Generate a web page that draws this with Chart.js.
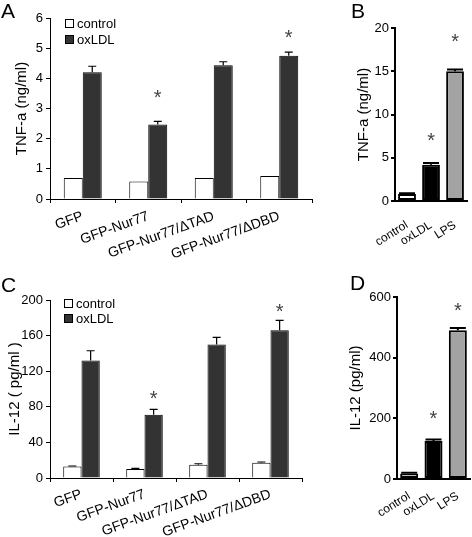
<!DOCTYPE html>
<html lang="en">
<head>
  <meta charset="UTF-8">
  <title>TNF-a / IL-12</title>
  <style>
    body { margin: 0; padding: 0; background: #fff; font-family: "Liberation Sans", Arial, sans-serif; }
    .wrap { position: relative; width: 472px; height: 537px; overflow: hidden; }
    .panel { position: absolute; }
    .tag { position: absolute; font-size: 21px; color: #000; line-height: 1; }
  </style>
</head>
<body>
  <div class="wrap">
    <canvas class="panel" id="chartA" width="330" height="268" style="left:0;top:0"></canvas>
    <canvas class="panel" id="chartB" width="132" height="268" style="left:340px;top:0"></canvas>
    <canvas class="panel" id="chartC" width="330" height="269" style="left:0;top:268px"></canvas>
    <canvas class="panel" id="chartD" width="132" height="269" style="left:340px;top:268px"></canvas>
    <div class="tag" style="left:1px;top:0px">A</div>
    <div class="tag" style="left:351px;top:0px">B</div>
    <div class="tag" style="left:1px;top:274px">C</div>
    <div class="tag" style="left:350px;top:272px">D</div>
  </div>

  <script src="https://cdn.jsdelivr.net/npm/chart.js"></script>
  <script>
    // constructs (panels A and C)
    const constructs = ['GFP', 'GFP-Nur77', 'GFP-Nur77/\u0394TAD', 'GFP-Nur77/\u0394DBD'];
    // treatments (panels B and D)
    const treatments = ['control', 'oxLDL', 'LPS'];

    // A: TNF-a (ng/ml)
    const tnfControl = [0.7, 0.58, 0.7, 0.76];
    const tnfControlErr = [0, 0, 0, 0];
    const tnfOx = [4.2, 2.47, 4.43, 4.75];
    const tnfOxErr = [0.2, 0.1, 0.12, 0.12];
    const tnfStars = [null, 3.45, null, 5.45];

    // B: TNF-a (ng/ml)
    const tnfB = [0.8, 4.2, 15.0];
    const tnfBErr = [0.1, 0.2, 0.2];
    const tnfBStars = [null, 7.4, 18.8];

    // C: IL-12 (pg/ml)
    const ilControl = [13, 10, 15, 17];
    const ilControlErr = [0.5, 0.8, 1, 1];
    const ilOx = [132, 71, 150, 166];
    const ilOxErr = [11, 6, 8, 11];
    const ilStars = [null, 93, null, 191];

    // D: IL-12 (pg/ml)
    const ilD = [18, 125, 490];
    const ilDErr = [3, 5, 8];
    const ilDStars = [null, 208, 564];

    Chart.defaults.font.family = '"Liberation Sans", Arial, sans-serif';
    Chart.defaults.color = '#000';

    // error bars + asterisks, drawn from dataset.err / dataset.stars
    const errorBars = {
      id: 'errorBars',
      afterDatasetsDraw(chart, args, opts) {
        const ctx = chart.ctx, y = chart.scales.y;
        chart.data.datasets.forEach((ds, i) => {
          chart.getDatasetMeta(i).data.forEach((bar, j) => {
            const e = ds.err ? ds.err[j] : 0;
            if (e) {
              const top = y.getPixelForValue(ds.data[j] + e);
              ctx.save();
              ctx.strokeStyle = '#000';
              ctx.lineWidth = opts.lw;
              ctx.beginPath();
              ctx.moveTo(bar.x, bar.y);
              ctx.lineTo(bar.x, top);
              ctx.moveTo(bar.x - opts.cap, top);
              ctx.lineTo(bar.x + opts.cap, top);
              ctx.stroke();
              ctx.restore();
            }
            const s = ds.stars ? ds.stars[j] : null;
            if (s != null) {
              ctx.save();
              ctx.fillStyle = '#444';
              ctx.font = '20px "Liberation Sans", Arial';
              ctx.textAlign = 'center';
              ctx.textBaseline = 'middle';
              ctx.fillText('*', bar.x, y.getPixelForValue(s) + 4);
              ctx.restore();
            }
          });
        });
      }
    };

    // small legend inside the plot area (panels A and C)
    const boxLegend = {
      id: 'boxLegend',
      afterDraw(chart, args, opts) {
        if (!opts.show) return;
        const ctx = chart.ctx, a = chart.chartArea;
        chart.data.datasets.forEach((ds, i) => {
          const cy = a.top + opts.dy + i * opts.gap;
          const x = a.left + opts.dx;
          ctx.save();
          ctx.fillStyle = ds.backgroundColor;
          ctx.strokeStyle = '#000';
          ctx.lineWidth = 1;
          ctx.fillRect(x, cy - 4, 8, 8);
          ctx.strokeRect(x + 0.5, cy - 3.5, 8, 8);
          ctx.fillStyle = '#000';
          ctx.font = '13px "Liberation Sans", Arial';
          ctx.textBaseline = 'middle';
          ctx.fillText(ds.label, x + 12, cy + 1);
          ctx.restore();
        });
      }
    };

    function groupedChart(id, area, yTitle, yMax, yStep, ctrl, ctrlErr, ox, oxErr, stars, leg) {
      return new Chart(document.getElementById(id), {
        type: 'bar',
        data: {
          labels: constructs,
          datasets: [
            { label: 'control', data: ctrl, err: ctrlErr, backgroundColor: '#fff',
              borderColor: '#000', borderWidth: 1 },
            { label: 'oxLDL', data: ox, err: oxErr, stars: stars, backgroundColor: '#333',
              borderColor: '#000', borderWidth: 1 }
          ]
        },
        options: {
          responsive: false,
          animation: false,
          devicePixelRatio: 1,
          categoryPercentage: 0.58,
          barPercentage: 1,
          layout: { padding: { top: area.top, right: area.right, left: 0, bottom: 0 } },
          plugins: {
            legend: { display: false },
            tooltip: { enabled: false },
            errorBars: { lw: 1.2, cap: 4 },
            boxLegend: Object.assign({ show: true }, leg)
          },
          scales: {
            x: {
              afterFit: s => { s.height = area.xh; },
              grid: { display: true, drawOnChartArea: false, drawTicks: true, tickLength: 4, color: '#000' },
              border: { display: true, color: '#000', width: 1 },
              ticks: { font: { size: 14 }, minRotation: 20, maxRotation: 20, padding: area.xp, autoSkip: false }
            },
            y: {
              min: 0, max: yMax,
              afterFit: s => { s.width = area.left; },
              grid: { display: true, drawOnChartArea: false, drawTicks: true, tickLength: 4, color: '#000' },
              border: { display: true, color: '#000', width: 1 },
              ticks: { stepSize: yStep, font: { size: 13 }, padding: 3 },
              title: { display: true, text: yTitle, font: { size: 15 }, padding: { top: area.tp, bottom: 0 } }
            }
          }
        },
        plugins: [errorBars, boxLegend]
      });
    }

    function treatmentChart(id, area, yTitle, yMax, yStep, vals, errs, stars) {
      return new Chart(document.getElementById(id), {
        type: 'bar',
        data: {
          labels: treatments,
          datasets: [
            { label: yTitle, data: vals, err: errs, stars: stars,
              backgroundColor: ['#fff', '#000', '#a3a3a3'],
              borderColor: '#000', borderWidth: 2, borderSkipped: false }
          ]
        },
        options: {
          responsive: false,
          animation: false,
          devicePixelRatio: 1,
          categoryPercentage: 1,
          barPercentage: 0.74,
          layout: { padding: { top: area.top, right: area.right, left: 0, bottom: 0 } },
          plugins: {
            legend: { display: false },
            tooltip: { enabled: false },
            errorBars: { lw: 2, cap: 8 }
          },
          scales: {
            x: {
              afterFit: s => { s.height = area.xh; },
              grid: { display: false },
              border: { display: true, color: '#000', width: 2 },
              ticks: { font: { size: 12 }, minRotation: 32, maxRotation: 32, padding: area.xp, autoSkip: false }
            },
            y: {
              min: 0, max: yMax,
              afterFit: s => { s.width = area.left; },
              grid: { display: true, drawOnChartArea: false, drawTicks: true, tickLength: 4, color: '#000', lineWidth: 2 },
              border: { display: true, color: '#000', width: 2 },
              ticks: { stepSize: yStep, font: { size: 13 }, padding: 2 },
              title: { display: true, text: yTitle, font: { size: 15 }, padding: { top: area.tp, bottom: 0 } }
            }
          }
        },
        plugins: [errorBars]
      });
    }

    groupedChart('chartA', { top: 18, right: 18, left: 50, xh: 69, xp: 5, tp: 13 }, 'TNF-a (ng/ml)', 6, 1,
      tnfControl, tnfControlErr, tnfOx, tnfOxErr, tnfStars, { dx: 15, dy: 5, gap: 16 });
    treatmentChart('chartB', { top: 28, right: 2, left: 55, xh: 67, xp: 9, tp: 15 }, 'TNF-a (ng/ml)', 20, 5,
      tnfB, tnfBErr, tnfBStars);
    groupedChart('chartC', { top: 32, right: 28, left: 50, xh: 59, xp: 4, tp: 6 }, 'IL-12 ( pg/ml )', 200, 40,
      ilControl, ilControlErr, ilOx, ilOxErr, ilStars, { dx: 14, dy: 3, gap: 15 });
    treatmentChart('chartD', { top: 29, right: 2, left: 57, xh: 58, xp: 2, tp: 7 }, 'IL-12 (pg/ml)', 600, 200,
      ilD, ilDErr, ilDStars);
  </script>
</body>
</html>
